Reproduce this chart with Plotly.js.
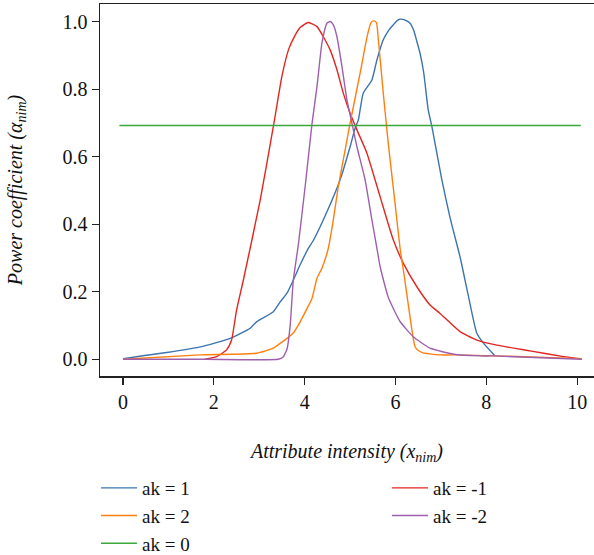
<!DOCTYPE html>
<html>
<head>
<meta charset="utf-8">
<script src="https://cdn.plot.ly/plotly-3.0.1.min.js"></script>
<style>html,body{margin:0;padding:0;overflow:hidden;background:#fff}</style>
</head>
<body>
<div id="chart" style="width:594px;height:555px"></div>
<script>
// ak = 1
const x_ak1 = [0, 0.96, 1.70, 2.36, 2.80, 2.94, 3.31, 3.46, 3.61, 3.75, 3.90, 4.08, 4.19, 4.50, 4.78, 5.00, 5.11, 5.18, 5.22, 5.29, 5.48, 5.59, 5.73, 5.85, 5.95, 6.03, 6.10, 6.20, 6.32, 6.40, 6.47, 6.54, 6.62, 6.72, 6.80, 7.02, 7.20, 7.42, 7.60, 7.79, 7.94, 8.19];
const y_ak1 = [0.002, 0.02, 0.037, 0.062, 0.092, 0.111, 0.141, 0.170, 0.196, 0.235, 0.28, 0.329, 0.352, 0.440, 0.532, 0.630, 0.685, 0.709, 0.739, 0.789, 0.828, 0.887, 0.947, 0.975, 0.991, 1.003, 1.008, 1.006, 0.996, 0.975, 0.942, 0.907, 0.850, 0.739, 0.690, 0.532, 0.420, 0.304, 0.190, 0.077, 0.047, 0.010];
// ak = 2
const x_ak2 = [0, 1.70, 2.94, 3.31, 3.46, 3.61, 3.75, 3.90, 4.05, 4.16, 4.27, 4.38, 4.52, 4.63, 4.74, 4.89, 5.00, 5.22, 5.38, 5.46, 5.52, 5.58, 5.62, 5.73, 5.84, 5.99, 6.10, 6.20, 6.36, 6.43, 6.50, 6.61, 6.76, 6.98, 7.28, 8.2, 10.1];
const y_ak2 = [0, 0.013, 0.018, 0.033, 0.047, 0.062, 0.078, 0.111, 0.150, 0.180, 0.240, 0.270, 0.329, 0.413, 0.512, 0.620, 0.700, 0.848, 0.960, 0.998, 1.003, 0.998, 0.950, 0.789, 0.640, 0.462, 0.329, 0.240, 0.087, 0.037, 0.026, 0.019, 0.016, 0.013, 0.013, 0.010, 0.002];
// ak = 0
const x_ak0 = [-0.08, 10.08];
const y_ak0 = [0.693, 0.693];
// ak = -1
const x_akm1 = [1.80, 2.06, 2.28, 2.39, 2.50, 2.65, 3.02, 3.31, 3.50, 3.65, 3.78, 3.90, 4.08, 4.27, 4.41, 4.56, 4.71, 4.85, 5.00, 5.15, 5.37, 5.66, 5.95, 6.17, 6.47, 6.76, 6.98, 7.42, 7.79, 8.23, 8.96, 9.70, 10.10];
const y_akm1 = [0, 0.008, 0.028, 0.057, 0.146, 0.235, 0.472, 0.690, 0.840, 0.920, 0.958, 0.983, 0.998, 0.986, 0.956, 0.917, 0.858, 0.789, 0.729, 0.680, 0.611, 0.482, 0.354, 0.285, 0.215, 0.161, 0.136, 0.082, 0.057, 0.042, 0.025, 0.008, 0.001];
// ak = -2
const x_akm2 = [0, 1.80, 3.42, 3.52, 3.61, 3.68, 3.75, 3.86, 4.01, 4.16, 4.27, 4.38, 4.49, 4.56, 4.63, 4.71, 4.82, 4.93, 5.04, 5.15, 5.33, 5.48, 5.59, 5.66, 5.84, 6.10, 6.39, 6.76, 7.28, 7.86, 8.16, 10.10];
const y_akm2 = [0, 0, 0, 0.006, 0.030, 0.100, 0.235, 0.340, 0.512, 0.697, 0.808, 0.937, 0.996, 1.001, 0.991, 0.956, 0.868, 0.769, 0.700, 0.630, 0.532, 0.413, 0.329, 0.275, 0.184, 0.112, 0.067, 0.033, 0.015, 0.010, 0.010, 0.0];

const serif = "'Liberation Serif', 'Times New Roman', serif";
const lw = 1.4;
const ln = (c) => ({color: c, width: lw, shape: 'spline', smoothing: 0.5});
const traces = [
  {x: x_ak1, y: y_ak1, name: 'ak = 1', mode: 'lines', line: ln('#3c74af')},
  {x: x_akm1, y: y_akm1, name: 'ak = -1', mode: 'lines', line: ln('#e2261f')},
  {x: x_ak2, y: y_ak2, name: 'ak = 2', mode: 'lines', line: ln('#ff7f0e')},
  {x: x_akm2, y: y_akm2, name: 'ak = -2', mode: 'lines', line: ln('#a05fae')},
  {x: x_ak0, y: y_ak0, name: 'ak = 0', mode: 'lines', line: {color: '#3aa83a', width: lw}}
];

const layout = {
  width: 594, height: 555,
  margin: {l: 100, r: 0, t: 4, b: 179, autoexpand: false},
  paper_bgcolor: '#fff', plot_bgcolor: '#fff',
  font: {family: serif, size: 19, color: '#111'},
  showlegend: true,
  xaxis: {
    range: [-0.507, 10.37], tickvals: [0, 2, 4, 6, 8, 10], ticktext: ['0', '2', '4', '6', '8', '10'],
    showgrid: false, zeroline: false, showline: true, linecolor: '#222', linewidth: 1.5, mirror: true,
    ticks: 'outside', ticklen: 7, tickwidth: 1.2, tickcolor: '#222', automargin: false,
    tickfont: {family: serif, size: 20, color: '#111'},
    title: {text: '<i>Attribute intensity (x<sub>nim</sub>)</i>', font: {family: serif, size: 20, color: '#111'}, standoff: 32}
  },
  yaxis: {
    range: [-0.0495, 1.053], tickvals: [0, 0.2, 0.4, 0.6, 0.8, 1.0], ticktext: ['0.0', '0.2', '0.4', '0.6', '0.8', '1.0'],
    showgrid: false, zeroline: false, showline: true, linecolor: '#222', linewidth: 1.5, mirror: false,
    ticks: 'outside', ticklen: 7, tickwidth: 1.2, tickcolor: '#222', automargin: false,
    tickfont: {family: serif, size: 20, color: '#111'},
    title: {text: '<i>Power coefficient (α<sub>nim</sub>)</i>', font: {family: serif, size: 20, color: '#111'}, standoff: 34}
  },
  legend: {
    orientation: 'h', x: -0.008, xanchor: 'left', y: -0.25, yanchor: 'top',
    entrywidth: 240, entrywidthmode: 'pixels', itemwidth: 36,
    font: {family: serif, size: 19, color: '#111'},
    traceorder: 'normal', bgcolor: 'rgba(0,0,0,0)'
  }
};
Plotly.newPlot('chart', traces, layout, {displayModeBar: false, staticPlot: true});
</script>
</body>
</html>
